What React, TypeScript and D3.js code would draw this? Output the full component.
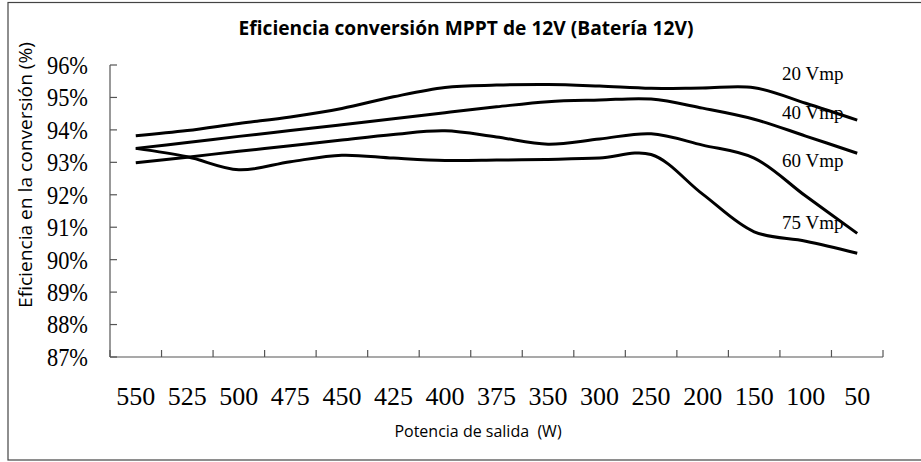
import { useEffect, useRef } from "react";
import * as d3 from "d3";

const W = 921;
const H = 462;

const power = ["550", "525", "500", "475", "450", "425", "400", "375", "350", "300", "250", "200", "150", "100", "50"];
const yTicks = [87, 88, 89, 90, 91, 92, 93, 94, 95, 96];

const vmp20 = [93.82, 93.98, 94.2, 94.4, 94.66, 95.02, 95.31, 95.38, 95.4, 95.35, 95.28, 95.29, 95.3, 94.82, 94.3];
const vmp40 = [93.43, 93.61, 93.8, 93.98, 94.16, 94.34, 94.53, 94.71, 94.87, 94.92, 94.95, 94.67, 94.33, 93.81, 93.28];
const vmp60 = [92.99, 93.16, 93.34, 93.51, 93.69, 93.86, 93.97, 93.78, 93.56, 93.72, 93.88, 93.53, 93.13, 91.96, 90.81];
const vmp75 = [93.43, 93.17, 92.77, 93.02, 93.22, 93.13, 93.06, 93.07, 93.09, 93.13, 93.24, 92.02, 90.86, 90.57, 90.2];

const seriesNames = ["20 Vmp", "40 Vmp", "60 Vmp", "75 Vmp"];
const seriesData = [vmp20, vmp40, vmp60, vmp75];
// label heights in % units
const labelAt = [95.75, 94.55, 93.05, 91.15];

const App = () => {
  const ref = useRef<SVGSVGElement | null>(null);

  useEffect(() => {
    if (!ref.current) return;
    const svg = d3.select(ref.current);
    svg.selectAll("*").remove();

    const x = d3.scaleBand<string>().domain(power).range([110, 883]).padding(0);
    const y = d3.scaleLinear().domain([87, 96]).range([357, 65]);

    // frame
    svg
      .append("rect")
      .attr("x", 8)
      .attr("y", 2.5)
      .attr("width", 930)
      .attr("height", 457.5)
      .attr("fill", "white")
      .attr("stroke", "#444")
      .attr("stroke-width", 1.2);

    svg
      .append("text")
      .attr("x", 466)
      .attr("y", 35)
      .attr("text-anchor", "middle")
      .attr("font-family", "'Open Sans', sans-serif")
      .attr("font-weight", "bold")
      .attr("font-size", 19)
      .attr("textLength", 455)
      .attr("lengthAdjust", "spacingAndGlyphs")
      .text("Eficiencia conversión MPPT de 12V (Batería 12V)");

    const axis = svg.append("g").attr("stroke", "#555").attr("stroke-width", 1.2);
    axis.append("line").attr("x1", 110).attr("x2", 110).attr("y1", y(96)).attr("y2", y(87));
    axis.append("line").attr("x1", 110).attr("x2", 883).attr("y1", y(87)).attr("y2", y(87));
    axis
      .selectAll("line.yt")
      .data(yTicks)
      .join("line")
      .attr("class", "yt")
      .attr("x1", 110)
      .attr("x2", 117)
      .attr("y1", (d) => y(d))
      .attr("y2", (d) => y(d));
    const bounds = power.map((p) => x(p)!).concat([x.range()[1]]);
    axis
      .selectAll("line.xt")
      .data(bounds)
      .join("line")
      .attr("class", "xt")
      .attr("x1", (d) => d)
      .attr("x2", (d) => d)
      .attr("y1", y(87))
      .attr("y2", y(87) - 7);

    svg
      .append("g")
      .selectAll("text")
      .data(yTicks)
      .join("text")
      .attr("x", 88)
      .attr("y", (d) => y(d))
      .attr("dy", "0.34em")
      .attr("text-anchor", "end")
      .attr("font-family", "'Liberation Serif', serif")
      .attr("font-size", 26)
      .attr("textLength", 41)
      .attr("lengthAdjust", "spacingAndGlyphs")
      .text((d) => d + "%");

    svg
      .append("g")
      .selectAll("text")
      .data(power)
      .join("text")
      .attr("x", (d) => x(d)! + x.bandwidth() / 2)
      .attr("y", 405)
      .attr("text-anchor", "middle")
      .attr("font-family", "'Liberation Serif', serif")
      .attr("font-size", 26)
      .text((d) => d);

    svg
      .append("text")
      .attr("x", 478)
      .attr("y", 437)
      .attr("text-anchor", "middle")
      .attr("font-family", "'Open Sans', sans-serif")
      .attr("font-size", 16)
      .attr("xml:space", "preserve")
      .text("Potencia de salida  (W)");

    svg
      .append("text")
      .attr("transform", "translate(32,175) rotate(-90)")
      .attr("text-anchor", "middle")
      .attr("font-family", "'Open Sans', sans-serif")
      .attr("font-size", 19)
      .attr("textLength", 266)
      .attr("lengthAdjust", "spacingAndGlyphs")
      .text("Eficiencia en la conversión (%)");

    const line = d3
      .line<number>()
      .x((_, i) => x(power[i])! + x.bandwidth() / 2)
      .y((d) => y(d))
      .curve(d3.curveCatmullRom.alpha(0.5));

    svg
      .append("g")
      .selectAll("path")
      .data(seriesData)
      .join("path")
      .attr("d", (d) => line(d))
      .attr("fill", "none")
      .attr("stroke", "black")
      .attr("stroke-width", 3);

    svg
      .append("g")
      .selectAll("text")
      .data(seriesNames)
      .join("text")
      .attr("x", 782)
      .attr("y", (_, i) => y(labelAt[i]))
      .attr("dy", "0.35em")
      .attr("font-family", "'Liberation Serif', serif")
      .attr("font-size", 19)
      .text((d) => d);
  }, []);

  return <svg ref={ref} width={W} height={H} style={{ position: "absolute", left: 0, top: 0 }} />;
};

export default App;
